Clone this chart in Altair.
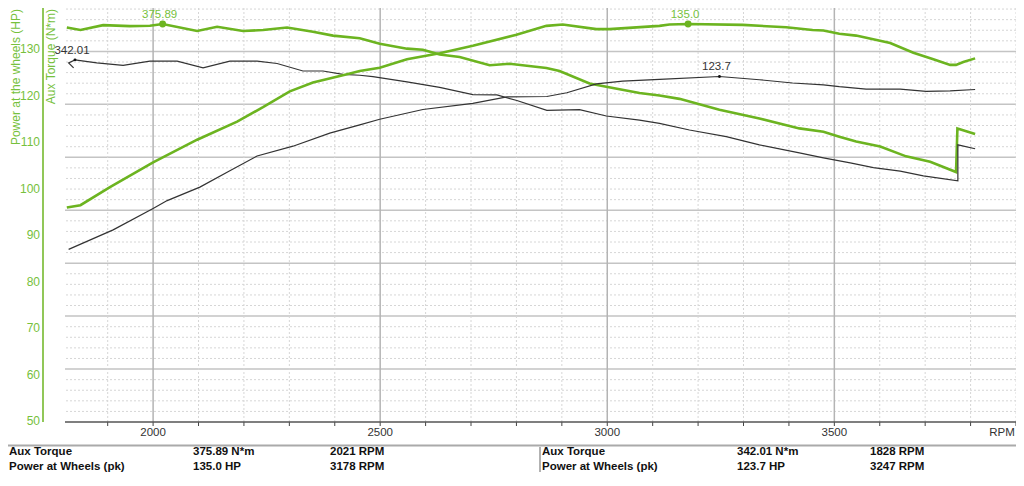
import pandas as pd
import altair as alt

# ---- dyno runs ----
green_torque_rpm = [1810, 1840, 1890, 1949, 1993, 2021, 2097, 2141, 2198, 2242,
                    2295, 2352, 2396, 2455, 2499, 2559, 2594, 2631, 2675, 2741,
                    2785, 2866, 2895, 2961, 2998, 3071, 3115, 3159, 3247, 3335,
                    3423, 3476, 3511, 3548, 3601, 3658, 3711, 3768, 3771, 3810]
green_torque = [372.6, 370.2, 374.8, 373.9, 374.2, 375.89, 369.3, 373.3, 369.3, 370.2,
                372.6, 368.6, 364.9, 362.4, 357.2, 352.6, 351.6, 347.0, 344.8, 337.0,
                338.3, 334.3, 331.5, 319.7, 316.6, 310.8, 308.3, 305.2, 295.0, 286.6,
                277.3, 274.2, 269.5, 264.9, 260.2, 250.9, 245.7, 236.1, 277.3, 272.0]

green_power_rpm = [1810, 1840, 1905, 2000, 2097, 2185, 2242, 2301, 2352, 2427,
                   2455, 2499, 2559, 2631, 2704, 2800, 2866, 2902, 2976, 3005,
                   3115, 3137, 3178, 3298, 3394, 3452, 3476, 3511, 3548, 3623,
                   3674, 3718, 3755, 3768, 3784, 3810]
green_power = [95.5, 96.0, 99.9, 105.2, 110.1, 114.0, 117.1, 120.5, 122.4, 124.2,
               124.9, 125.6, 127.4, 128.7, 130.3, 132.7, 134.6, 134.9, 133.9, 133.9,
               134.6, 134.9, 135.0, 134.8, 134.3, 133.7, 133.6, 132.9, 132.5, 130.9,
               128.8, 127.4, 126.2, 126.2, 126.8, 127.6]

black_torque_rpm = [1825, 1814, 1828, 1876, 1934, 1993, 2053, 2110, 2169, 2229,
                    2273, 2330, 2374, 2418, 2455, 2484, 2559, 2631, 2704, 2757,
                    2801, 2867, 2939, 2998, 3071, 3115, 3181, 3262, 3335, 3423,
                    3476, 3535, 3586, 3645, 3696, 3772, 3772, 3810]
black_torque = [334.5, 339.2, 342.01, 339.2, 336.8, 340.8, 340.8, 334.5, 340.8, 340.8,
                338.6, 331.5, 331.5, 328.4, 327.5, 326.2, 321.3, 316.0, 309.2, 308.9,
                303.6, 294.3, 295.0, 289.0, 285.1, 282.0, 275.8, 269.5, 261.8, 254.1,
                249.5, 244.8, 240.2, 237.0, 232.4, 227.8, 261.8, 258.1]

black_power_rpm = [1814, 1912, 2000, 2031, 2103, 2169, 2229, 2308, 2389, 2455,
                   2499, 2594, 2704, 2779, 2867, 2911, 2976, 3034, 3115, 3247,
                   3335, 3408, 3476, 3511, 3570, 3645, 3702, 3755, 3810]
black_power = [86.5, 90.7, 95.3, 97.0, 99.9, 103.4, 106.6, 108.7, 111.5, 113.3,
               114.5, 116.6, 117.9, 119.3, 119.4, 120.2, 122.1, 122.7, 123.1, 123.7,
               123.0, 122.3, 121.9, 121.5, 121.0, 121.0, 120.5, 120.6, 120.9]

# peak markers: (rpm, value) for green and black runs
torque_peak_rpm = [2021, 1828]
torque_peak = [375.89, 342.01]
power_peak_rpm = [3178, 3247]
power_peak = [135.0, 123.7]

names = ["Aux Torque", "Power at Wheels  (pk)"]
units = ["N*m", "HP"]
extra_unit = "HP (mechanic)"

# grid / tick positions
rpm_ticks = list(range(1900, 3901, 100))
rpm_major = [2000, 2500, 3000, 3500]
rpm_minor = [v for v in rpm_ticks if v not in rpm_major]
torque_major = [50, 100, 150, 200, 250, 300, 350]
torque_minor = [v for v in range(10, 391, 10) if v % 50]
hp_ticks = [50, 60, 70, 80, 90, 100, 110, 120, 130]

GREEN = "#6cb420"
GREEN_TXT = "#76c13c"
DARK = "#333333"
FONT = "Liberation Sans"
W, H = 951, 414

x_scale = alt.Scale(domain=[1806, 3900], nice=False, zero=False)
torque_scale = alt.Scale(domain=[0, 391.0], nice=False, zero=False)
power_scale = alt.Scale(domain=[49.35, 138.44], nice=False, zero=False)


def xq(field="v"):
    return alt.X(f"{field}:Q", scale=x_scale, axis=None)


def vgrid(values, color, width, dash):
    df = pd.DataFrame({"v": values})
    return alt.Chart(df).mark_rule(color=color, strokeWidth=width, strokeDash=dash).encode(x=xq())


def hgrid(values, color, width, dash):
    df = pd.DataFrame({"v": values})
    return alt.Chart(df).mark_rule(color=color, strokeWidth=width, strokeDash=dash).encode(
        y=alt.Y("v:Q", scale=torque_scale, axis=None)
    )


def run_line(rpm, val, color, width, y_scale):
    df = pd.DataFrame({"rpm": rpm, "val": val, "i": list(range(len(rpm)))})
    return alt.Chart(df).mark_line(color=color, strokeWidth=width).encode(
        x=xq("rpm"),
        y=alt.Y("val:Q", scale=y_scale, axis=None),
        order="i:Q",
    )


def peaks(rpm, val, fmt):
    df = pd.DataFrame({
        "rpm": rpm, "val": val,
        "lbl": [format(v, fmt) for v in val],
        "col": [GREEN, "#111111"],
        "txt": [GREEN_TXT, DARK],
        "size": [48, 8],
    })
    base = alt.Chart(df).encode(x=xq("rpm"), y=alt.Y("val:Q", axis=None))
    dots = base.mark_circle(opacity=1).encode(
        color=alt.Color("col:N", scale=None),
        size=alt.Size("size:Q", scale=None),
    )
    text = base.mark_text(dy=-9, dx=-3, font=FONT, fontSize=11.5).encode(
        text="lbl:N", color=alt.Color("txt:N", scale=None)
    )
    return dots + text


# x axis drawn from the tick arrays
x_ticks = alt.Chart(pd.DataFrame({"v": rpm_ticks})).mark_rule(color="#444444", strokeWidth=1).encode(
    x=xq(), y=alt.value(H), y2=alt.value(H + 4)
)
x_labels = alt.Chart(pd.DataFrame({"v": rpm_major})).mark_text(
    font=FONT, fontSize=11.5, color=DARK, baseline="middle"
).encode(x=xq(), y=alt.value(H + 11), text=alt.Text("v:Q", format="d"))

torque_group = alt.layer(
    hgrid(torque_minor, "#d6d6d6", 1, [2, 2]),
    hgrid(torque_major, "#c4c4c4", 1.5, [1, 0]),
    vgrid(rpm_minor, "#d6d6d6", 1, [2, 2]),
    vgrid(rpm_major, "#b4b4b4", 1.5, [1, 0]),
    x_ticks,
    x_labels,
    run_line(green_torque_rpm, green_torque, GREEN, 2.6, torque_scale),
    run_line(black_torque_rpm, black_torque, DARK, 1.2, torque_scale),
    peaks(torque_peak_rpm, torque_peak, ".2f"),
)

hp_labels = alt.Chart(pd.DataFrame({"v": hp_ticks})).mark_text(
    font=FONT, fontSize=12, color=GREEN_TXT, align="right", baseline="middle", dy=2
).encode(
    x=alt.value(-25),
    y=alt.Y("v:Q", scale=power_scale, axis=None),
    text=alt.Text("v:Q", format="d"),
)

power_group = alt.layer(
    hp_labels,
    run_line(green_power_rpm, green_power, GREEN, 2.6, power_scale),
    run_line(black_power_rpm, black_power, DARK, 1.2, power_scale),
    peaks(power_peak_rpm, power_peak, ".1f"),
)

one = pd.DataFrame({"k": [0]})


def block(lines, x):
    return alt.Chart(one).mark_text(
        text=lines, align="left", baseline="top", font=FONT, fontSize=11.5,
        fontWeight="bold", lineHeight=15, color="#111111",
    ).encode(x=alt.value(x), y=alt.value(438))


def side_title(text, x):
    return alt.Chart(one).mark_text(
        text=text, angle=270, align="right", baseline="middle",
        font=FONT, fontSize=12, color=GREEN_TXT,
    ).encode(x=alt.value(x), y=alt.value(1))


left_vals = [f"{torque_peak[0]:.2f} {units[0]}", f"{power_peak[0]:.1f} {units[1]}", extra_unit]
left_rpm = [f"{torque_peak_rpm[0]} RPM", f"{power_peak_rpm[0]} RPM"]
right_vals = [f"{torque_peak[1]:.2f} {units[0]}", f"{power_peak[1]:.1f} {units[1]}", extra_unit]
right_rpm = [f"{torque_peak_rpm[1]} RPM", f"{power_peak_rpm[1]} RPM"]

x_line = alt.Chart(one).mark_rule(color="#555555", strokeWidth=1.5).encode(
    x=alt.value(0), x2=alt.value(W), y=alt.value(H)
)
hp_line = alt.Chart(one).mark_rule(color=GREEN, strokeWidth=1.5).encode(
    x=alt.value(-22), y=alt.value(0), y2=alt.value(H)
)
separator = alt.Chart(one).mark_rule(color="#aaaaaa", strokeWidth=2).encode(
    x=alt.value(-57), x2=alt.value(W), y=alt.value(437.5)
)
col_sep = alt.Chart(one).mark_rule(color="#999999", strokeWidth=1.5).encode(
    x=alt.value(475), y=alt.value(439), y2=alt.value(470)
)
rpm_label = alt.Chart(one).mark_text(
    text="RPM", font=FONT, fontSize=11.5, color=DARK, baseline="middle"
).encode(x=alt.value(937), y=alt.value(H + 11))

chart = alt.layer(
    torque_group,
    power_group,
    x_line,
    hp_line,
    side_title("Power at the wheels (HP)", -49),
    side_title("Aux Torque (N*m)", -14),
    separator,
    col_sep,
    rpm_label,
    block(names, -56),
    block(left_vals, 128),
    block(left_rpm, 265),
    block(names, 477),
    block(right_vals, 672),
    block(right_rpm, 805),
).resolve_scale(y="independent").properties(
    width=W, height=H,
    autosize=alt.AutoSizeParams(type="none"),
    padding={"left": 57, "top": 0, "right": 0, "bottom": 50},
).configure_view(stroke=None)

chart.save("out.html", embed_options={"renderer": "svg", "actions": False})
